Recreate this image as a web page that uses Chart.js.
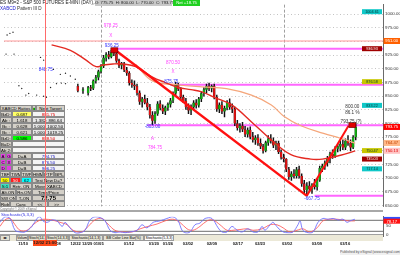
<!DOCTYPE html>
<html>
<head>
<meta charset="utf-8">
<script src="https://cdn.jsdelivr.net/npm/chart.js@4.4.1/dist/chart.umd.min.js"></script>
<style>
  body { margin: 0; background: #fff; font-family: "Liberation Sans", Arial, sans-serif; }
  #wrap { position: relative; width: 400px; height: 255px; overflow: hidden; background: #fff; }
  .abs { position: absolute; }
  .cell { position: absolute; box-sizing: border-box; border: 0.5px solid #8a8a8a; font-size: 4.4px;
          line-height: 5.5px; text-align: center; white-space: nowrap; overflow: hidden; color: #000; }
  .tab { position: absolute; top: 0; height: 6px; box-sizing: border-box; border: 0.5px solid #9a9a9a;
         font-size: 3.6px; line-height: 5.5px; text-align: center; white-space: nowrap; overflow: hidden; background: #e4e1d2; }
</style>
</head>
<body>
<div id="wrap">
  <div class="abs" style="left:0;top:0;width:400px;height:211px"><canvas id="priceChart"></canvas></div>
  <div class="abs" style="left:0;top:210px;width:383px;height:2px;background:#a8a8a8"></div>
  <div class="abs" style="left:0;top:211px;width:400px;height:44px"><canvas id="stochChart"></canvas></div>

  <!-- header -->
  <div class="abs" style="left:0;top:0;font-size:4.6px;line-height:6px;color:#222;white-space:nowrap">ES M9=2 - S&amp;P 500 FUTURES E-MINI (DAY),240</div>
  <div class="abs" style="left:95px;top:0;width:77px;height:6px;background:#c8c8c8;font-size:4.2px;line-height:6px;color:#222;white-space:nowrap;text-align:center">O: 775.75 &nbsp;H: 800.00 &nbsp;L: 770.00 &nbsp;C: 793.75</div>
  <div class="abs" style="left:173px;top:0;width:27px;height:6px;background:#20d020;font-size:4.2px;line-height:6px;color:#fff;text-align:center">Net +18.75</div>
  <div class="abs" style="left:0;top:6px;font-size:4.6px;line-height:5px;white-space:nowrap"><span style="color:#2020d0">XABCD</span><span style="color:#333"> Pattern III D</span></div>

  <div id="panel" class="abs" style="left:0;top:105px;width:65px;height:102px"></div>
  <div class="abs" style="left:0;top:207px;font-size:3.2px;line-height:4px;color:#777;white-space:nowrap">Copyright © 2009 eSignal</div>
  <div class="abs" style="left:1px;top:212px;font-size:4.4px;line-height:5px;color:#3030e0;white-space:nowrap">Stochastic(5,3,3)</div>

  <div id="tabs" class="abs" style="left:0;top:234px;width:383px;height:6px;background:#ece9d8;border-top:0.5px solid #a0a0a0"></div>
  <div class="abs" style="left:33px;top:240px;width:24px;height:6px;background:#ff4a1a;font-size:4.4px;line-height:6px;text-align:center;color:#222;font-weight:bold">12/02 21:00</div>
  <div class="abs" style="left:45px;top:0;width:1px;height:240px;background:#ff6a6a"></div>
  <div class="abs" style="left:340px;top:250px;width:60px;height:5px;background:#f0f0f0;font-size:3.4px;line-height:5px;color:#555;white-space:nowrap;text-align:center">Published by eSignal (www.esignal.com)</div>
</div>

<script>
// Barras de 240 min, índice 0 = primeira barra de 01/05
const firstBar = -9;
const opens  = [868,null,860,null,856,866,864,878,884,
  895,905,920,926,922,930,928,915,906,909,898,892,874,871,868,856,840,845,838,830,815,
  805,818,836,828,822,829,835,842,855,870,863,848,841,830,824,830,838,833,845,855,
  862,868,864,868,848,826,834,822,828,838,830,826,800,792,796,789,780,788,776,770,
  774,764,758,750,765,772,768,760,764,748,738,735,716,702,708,704,716,704,690,678,
  686,680,688,684,696,718,722,728,736,744,740,754,758,762,756,768,764,756,775];
const highs  = [872,null,866,null,868,870,880,888,898,
  908,925,930,932,934,936.25,931,918,912,912,903,895,880,878,872,860,848,852,846,835,
  822,822,840,842,834,832,838,846,858,875.75,874,866,852,846,836,834,842,844,848,858,
  866,872,874,871,872,852,838,840,832,842,845,836,830,806,800,802,795,792,794,784,
  778,780,772,762,768,778,780,774,768,768,752,744,736,720,712,716,720,722,708,696,
  692,694,690,698,700,722,726,732,740,748,752,758,762,768,770,772,778,770,778,800];
const lows   = [858,null,855,null,852,860,862,874,880,
  892,902,914,918,920,924,912,902,900,895,888,870,866,862,852,835,830,836,825,810,
  798,800,815,825,818,816,824,830,838,852,860,845,838,826,818,816,826,828,830,840,
  850,856,860,858,845,822,820,818,812,825,826,820,796,788,784,785,776,775,772,766,
  762,760,754,746,748,760,764,756,752,745,735,730,712,698,696,700,700,700,685,672,
  667.75,675,672,680,678,694,712,716,722,728,736,738,748,750,752,752,760,750,754,770];
const closes = [860,null,862,null,866,864,878,884,895,
  905,920,926,922,930,928,915,906,909,898,892,874,871,868,856,840,845,838,830,815,
  805,818,836,828,822,829,835,842,855,870,863,848,841,830,824,830,838,833,845,855,
  862,868,864,868,848,826,834,822,828,838,830,826,800,792,796,789,780,788,776,770,
  774,764,758,750,765,772,768,760,764,748,738,735,716,702,708,704,716,704,690,678,
  686,680,688,684,696,718,722,728,736,744,740,754,758,762,756,768,764,756,775,793.75];

// Pontos soltos do contrato no início (dados esparsos)
const dotIdx   = [-36.5,-35.4,-34.2,-36.9,-33.8,-31.9,-30.8,-29.2,-28.1,-25,-23.5,-22.3,-22.3,-21.2,-19.6,-18.5,-17.3,-15.8,-15.4,-13.8,-13.8,-11.9,-10];
const dotPrice = [962,965,967,927,927,869,864,852,855,852,921,916,850,848,866,899,873,890,874,892,873,887,881];

// Médias móveis
const redMaIdx    = [-19.2,-11.9,-5.8,-1.9,0.8,4.6,8.5,13.5,20,25,30,35,39.2,44,50.8,58.5,66.2,73.8,81.5,86,93.1,98.8];
const redMa       = [944,934,916,904,907,909,909,904,885,875,866,862,858,848,834,803,770,743,735,735,742,750];
const orangeMaIdx = [13.5,20,29.6,39.2,48.8,58.5,66.2,71.2,77.7,86.5,93.1,98.8];
const orangeMa    = [908,878,871,867,864,852,834,813,796,782,773,764];

// Linhas de tendência e níveis
const trendIdx   = [5, 80, 96.2];
const trendPrice = [936.25, 667.75, 796];
const levelPrice = [951, 937, 871, 797, 667.75];
const levelFrom  = [-37.7, 4.6, 27, 18, 83];
const levelColor = ['#ff9a9a', '#ff66ff', '#ff66ff', '#ff66ff', '#ff66ff'];
const sepIdx = [0, 71];

// Textos no gráfico
const noteText  = ['978.25','X','936.25','848.75','870.50','X','875.75','-803.00','A','784.75','-667.75','800.00','86.1 %','793.75 (?)'];
const noteIdx   = [3.8,3.8,4.2,-21.5,28,28,27.3,20,20,21,82,97.7,97.7,97.2];
const notePrice = [979,960,942,899,911,894,876,794,773,756,663,831,820,804];
const noteColor = ['#ff40ff','#ff40ff','#3030ff','#3030ff','#ff40ff','#ff40ff','#3030ff','#3030ff','#ff40ff','#ff40ff','#3030ff','#333','#333','#333'];

// Caixas de valores (dentro do gráfico e no eixo)
const tagPrice = [1004.61, 936.93, 876.58, 833.22, 750.47, 735.03, 717.14];
const tagColor = ['#10c8c8', '#a00000', '#c8c800', '#10c8c8', '#c8c800', '#a00000', '#10c8c8'];
const axisPrice = [951.00, 793.75, 764.47, 750.13];
const axisBg    = ['#ff6000', '#ff0000', '#ffb888', '#ffc4c4'];
const axisFg    = ['#fff', '#fff', '#c04000', '#e00000'];

// Eixo Y de preço
const priceTicks = [650,675,700,725,750,775,800,825,850,875,900,925,950,975,1000];

// Estocástico (5,3,3)
const stochKIdx = [-37.7,-35.8,-33.8,-31.9,-30,-28.1,-25.4,-23.5,-22.3,-21.2,-19.6,-17.7,-15.8,-13.8,-12.7,-10.8,-8.8,-6.9,-5,-3.1,
  -1.2,0.8,2.7,4.6,6.5,8.5,10.4,12.3,15,16.9,18.8,21.2,23.8,26.5,28.8,30.8,32.3,33.5,35.4,37.3,
  39.2,41.2,43.8,46.2,47.7,49.6,51.5,53.5,55.4,57.7,59.6,61.5,63.1,64.2,66.2,67.3,69.2,71.2,73.1,75,
  76.9,77.7,78.8,80.8,82.7,84.6,86.5,88.5,90.4,92.3,94.2,95.8,96.9,98.8];
const stochK = [69,99,90,26,17,17,47,90,99,77,69,82,77,47,69,39,13,13,26,82,
  99,95,77,26,13,17,13,17,26,56,39,69,77,90,99,77,26,13,17,56,
  65,90,90,39,17,17,47,26,17,34,17,17,47,26,56,69,39,17,13,17,
  56,77,26,13,17,69,90,86,90,82,86,69,77,86];
const stochDIdx = [-37.7,-35.8,-33.8,-31.9,-30,-27.3,-25,-22.3,-20.4,-17.7,-14.6,-11.9,-9.6,-6.2,-3.8,-1.2,1.5,3.8,6.5,9.6,
  13.1,16.2,19.2,22.7,25.8,28.8,31.5,34.2,36.5,39.2,41.9,44.2,46.9,49.6,51.9,54.6,57.3,59.6,63.1,66.2,
  68.8,71.2,73.8,76.5,78.8,81.5,84.2,86.5,89.2,91.9,94.2,96.2,98.8];
const stochD = [47,82,90,56,26,26,56,82,86,82,69,56,26,17,47,82,90,60,26,17,
  17,34,47,60,77,86,69,34,26,47,77,82,56,26,26,30,34,26,34,56,
  56,39,17,26,34,17,39,77,86,86,82,77,77];
const stochLevels = [80, 20];
const stochTicks = [0, 50];
const stochLast = [86.24, 78.17];

// Datas do eixo X
const dateIdx    = [-28.8,-16.3,-8.6,-4.2,0.2,11.9,21.5,26.9,34.6,43.8,53.8,62.3,72.7,84.2,95];
const dateLabels = ['11/10','12/08','12/22','12/29','01/05','01/12','01/20','01/26','02/02','02/09','02/17','02/23','03/02','03/09','03/16'];

const FONT = '"Liberation Sans", Arial, sans-serif';
const X_MIN = -37.7, X_MAX = 109.6;

function pts(idx, vals) { return idx.map((v, i) => ({ x: v, y: vals[i] })); }

const wicks = [], bodies = [], bodyColors = [];
opens.forEach((o, i) => {
  const k = firstBar + i;
  if (o === null) return;
  wicks.push({ x: k, y: [lows[i], highs[i]] });
  let c = closes[i];
  if (Math.abs(c - o) < 1) c = o + 1;
  bodies.push({ x: k, y: [o, c] });
  bodyColors.push(closes[i] >= o ? '#10b010' : '#e01010');
});

const levelSets = levelPrice.map((p, i) => ({
  type: 'line', data: [{ x: levelFrom[i], y: p }, { x: X_MAX, y: p }],
  borderColor: levelColor[i], borderWidth: i === 0 ? 1.2 : 2, pointRadius: 0, order: 9
}));

function box(ctx, cx, cy, w, h, bg, fg, txt, fontPx) {
  ctx.fillStyle = bg;
  ctx.fillRect(cx, cy - h / 2, w, h);
  ctx.fillStyle = fg;
  ctx.font = fontPx + 'px ' + FONT;
  ctx.textAlign = 'center';
  ctx.textBaseline = 'middle';
  ctx.fillText(txt, cx + w / 2, cy + 0.3);
}

const priceOverlay = {
  id: 'priceOverlay',
  beforeDatasetsDraw(chart) {
    const { ctx, chartArea: a, scales: { x } } = chart;
    ctx.save();
    ctx.strokeStyle = '#a0a0a0';
    ctx.lineWidth = 1;
    ctx.setLineDash([3, 2]);
    sepIdx.forEach(v => {
      const px = Math.round(x.getPixelForValue(v)) + 0.5;
      ctx.beginPath(); ctx.moveTo(px, a.top); ctx.lineTo(px, a.bottom); ctx.stroke();
    });
    ctx.restore();
  },
  afterDatasetsDraw(chart) {
    const { ctx, scales: { x, y } } = chart;
    ctx.save();
    // marcadores nos pontos B e D
    [[5, 934], [97.5, 797]].forEach(([k, p]) => {
      ctx.fillStyle = '#e00000';
      ctx.strokeStyle = '#600000';
      ctx.lineWidth = 0.6;
      ctx.fillRect(x.getPixelForValue(k) - 3, y.getPixelForValue(p) - 2.5, 7, 5);
      ctx.strokeRect(x.getPixelForValue(k) - 3, y.getPixelForValue(p) - 2.5, 7, 5);
    });
    ctx.font = '4.6px ' + FONT;
    ctx.textAlign = 'center';
    ctx.textBaseline = 'middle';
    noteText.forEach((t, i) => {
      ctx.fillStyle = noteColor[i];
      ctx.fillText(t, x.getPixelForValue(noteIdx[i]), y.getPixelForValue(notePrice[i]));
    });
    tagPrice.forEach((p, i) => {
      const fg = tagColor[i] === '#a00000' ? '#fff' : '#0a3a3a';
      box(ctx, 362, y.getPixelForValue(p), 20, 5, tagColor[i], fg, p.toFixed(2), 3.8);
    });
    ctx.restore();
  },
  afterDraw(chart) {
    const { ctx, scales: { y } } = chart;
    ctx.save();
    axisPrice.forEach((p, i) => {
      box(ctx, 383.5, y.getPixelForValue(p), 16.5, 6, axisBg[i], axisFg[i], p.toFixed(2), 4.2);
    });
    ctx.restore();
  }
};

const rightWidth = s => { s.width = 17; };

new Chart(document.getElementById('priceChart'), {
  type: 'bar',
  data: {
    datasets: [
      ...levelSets,
      { type: 'line', data: pts(dotIdx, dotPrice), showLine: false, pointRadius: 0.7,
        pointBackgroundColor: '#222', pointBorderWidth: 0, order: 8 },
      { type: 'bar', data: wicks, backgroundColor: '#111', barThickness: 0.8, grouped: false, order: 5 },
      { type: 'bar', data: bodies, backgroundColor: bodyColors, borderColor: '#222', borderWidth: 0.3,
        barThickness: 2, grouped: false, order: 4 },
      { type: 'line', data: pts(orangeMaIdx, orangeMa), borderColor: '#f5a77c', borderWidth: 1.2,
        pointRadius: 0, tension: 0.4, order: 3 },
      { type: 'line', data: pts(redMaIdx, redMa), borderColor: '#e42a22', borderWidth: 1.4,
        pointRadius: 0, tension: 0.4, order: 2 },
      { type: 'line', data: pts(trendIdx.slice(0, 2), trendPrice.slice(0, 2)), borderColor: '#ff1010',
        borderWidth: 2.4, pointRadius: 0, order: 1 },
      { type: 'line', data: pts(trendIdx.slice(1), trendPrice.slice(1)), borderColor: '#ff1010',
        borderWidth: 2, pointRadius: 0, order: 1 }
    ]
  },
  options: {
    responsive: true, maintainAspectRatio: false, animation: false, devicePixelRatio: 1,
    layout: { padding: 0 },
    plugins: { legend: { display: false }, tooltip: { enabled: false } },
    scales: {
      x: { type: 'linear', min: X_MIN, max: X_MAX, display: false, offset: false },
      y: {
        position: 'right', min: 648.5, max: 1017.5,
        afterFit: rightWidth,
        afterBuildTicks: s => { s.ticks = priceTicks.map(v => ({ value: v })); },
        ticks: { callback: v => v.toFixed(2), font: { size: 4.4, family: FONT }, color: '#333', padding: 2 },
        grid: { color: '#b4b4b4', lineWidth: 0.8, drawTicks: false },
        border: { display: true, color: '#6a6a6a', width: 1, dash: [1, 2.5] }
      }
    }
  },
  plugins: [priceOverlay]
});

const stochOverlay = {
  id: 'stochOverlay',
  afterDraw(chart) {
    const { ctx, scales: { y } } = chart;
    ctx.save();
    box(ctx, 383.5, y.getPixelForValue(stochLast[0]) - 0.5, 16.5, 3.5, '#3050ff', '#fff', '', 3);
    box(ctx, 383.5, y.getPixelForValue(stochLast[1]) + 0.5, 16.5, 5, '#ff1010', '#fff', stochLast[1].toFixed(2), 4.2);
    ctx.restore();
  }
};

new Chart(document.getElementById('stochChart'), {
  type: 'line',
  data: {
    datasets: [
      ...stochLevels.map(v => ({ data: [{ x: X_MIN, y: v }, { x: X_MAX, y: v }], borderColor: '#8a8a8a',
        borderWidth: 1.3, pointRadius: 0, order: 5 })),
      { data: pts(stochDIdx, stochD), borderColor: '#ff6060', borderWidth: 0.9, pointRadius: 0, tension: 0.35, order: 2 },
      { data: pts(stochKIdx, stochK), borderColor: '#7070ff', borderWidth: 0.9, pointRadius: 0, tension: 0.35, order: 1 }
    ]
  },
  options: {
    responsive: true, maintainAspectRatio: false, animation: false, devicePixelRatio: 1,
    layout: { padding: { top: 1, bottom: 0 } },
    plugins: { legend: { display: false }, tooltip: { enabled: false } },
    scales: {
      x: {
        type: 'linear', min: X_MIN, max: X_MAX, offset: false,
        afterBuildTicks: s => { s.ticks = dateIdx.map(v => ({ value: v })); },
        afterFit: s => { s.height = 19; },
        ticks: {
          autoSkip: false, maxRotation: 0, padding: 5, color: '#111',
          font: { size: 4.1, weight: 'bold', family: FONT },
          callback: v => { const i = dateIdx.indexOf(v); return i >= 0 ? dateLabels[i] : ''; }
        },
        grid: { display: false, drawTicks: false }, border: { display: false }
      },
      y: {
        position: 'right', min: -5, max: 100,
        afterFit: rightWidth,
        afterBuildTicks: s => { s.ticks = stochTicks.map(v => ({ value: v })); },
        ticks: { font: { size: 4.4, family: FONT }, color: '#333', padding: 3 },
        grid: { display: false, drawTicks: false },
        border: { display: true, color: '#6a6a6a', width: 1 }
      }
    }
  },
  plugins: [stochOverlay]
});

// Painel XABCD (HTML)
const G = '#d4d0c8', W = '#f4f4f4', M = '#e040e0';
const panelRows = [
  [['XABCD Ratios', 32, G], ['■', 4, G, '#00a000'], ['Next Target', 29, G]],
  [['BzD:', 12, G], ['0.687', 20, '#ffff66'], ['881.75', 33, W, '#e00000']],
  [['Ab :', 12, G], ['1.618', 20, G], ['1.382: 886.64', 33, '#e6e6e6']],
  [['Bc :', 12, G], ['0.628', 20, G], ['1.000: 1002.50', 33, '#e6e6e6']],
  [['Bc :', 12, G], ['0.621', 20, G], ['1.000: 1019.25', 33, '#e6e6e6']],
  [['BzD:', 12, G], ['0.586', 20, '#00ff00'], ['888.50', 33, W, '#e00000']],
  [['BaD:', 12, G], ['', 53, W]],
  [['Ab 2:', 12, G], ['', 53, W]],
  [['A', 6, M], ['G', 6, M], ['D=A', 20, G], ['794.75', 33, W, '#2020c0']],
  [['C', 6, M], ['X', 6, M], ['D=B', 20, G], ['876.50', 33, W, '#2020c0']],
  [['D', 6, M], ['', 6, M], ['D=B', 20, G], ['906.25', 33, W, '#2020c0']],
  [['TBFP', 10, G], ['TWM', 11, G], ['TWP', 11, G], ['HMM', 11, G], ['FTP', 11, G], ['BPL', 11, G]],
  [['50', 10, '#ffff00'], ['50', 11, '#ff2020', '#fff'], ['62', 11, '#00ffff'], ['Test New D=?', 33, G]],
  [['S:1', 10, '#40e0c0'], ['Retr. ON', 22, G], ['Move XABCD', 33, G]],
  [['Alt.ON', 16, G], ['Rn.ON', 16, G], ['Time/Price', 33, G]],
  [['SW ON', 16, G], ['T-ON', 16, G], ['72.75', 33, G, '#000', true]],
  [['Ride', 10, G], ['Canc', 22, G], ['<<', 16, G], ['>>', 17, G]]
];
const panel = document.getElementById('panel');
panelRows.forEach((row, r) => {
  let left = 0;
  row.forEach(([t, w, bg, fg, big]) => {
    const d = document.createElement('div');
    d.className = 'cell';
    d.style.left = left + 'px';
    d.style.top = (r * 6) + 'px';
    d.style.width = w + 'px';
    d.style.height = '6px';
    d.style.background = bg;
    if (fg) d.style.color = fg;
    if (big) { d.style.fontSize = '6px'; d.style.fontWeight = 'bold'; }
    d.textContent = t;
    panel.appendChild(d);
    left += w;
  });
});

// Abas dos indicadores
const tabNames = ['◂ ▸', 'Volume', 'Stoch(14,1)', 'Stoch(14,3,3)(5,3)', 'Stochastic(14,1,3)', 'BB Color Line Bar(%)', 'Stochastic(5,3,3)'];
const tabWidths = [10, 12, 18, 23, 34, 41, 30];
const tabs = document.getElementById('tabs');
let tx = 0;
tabNames.forEach((n, i) => {
  const d = document.createElement('div');
  d.className = 'tab';
  d.style.left = (tx + (i > 0 ? 3 : 0)) + 'px';
  d.style.width = tabWidths[i] + 'px';
  if (i === tabNames.length - 1) d.style.background = '#fff';
  d.textContent = n;
  tabs.appendChild(d);
  tx += tabWidths[i] + (i > 0 ? 0 : 3);
});
</script>
</body>
</html>
